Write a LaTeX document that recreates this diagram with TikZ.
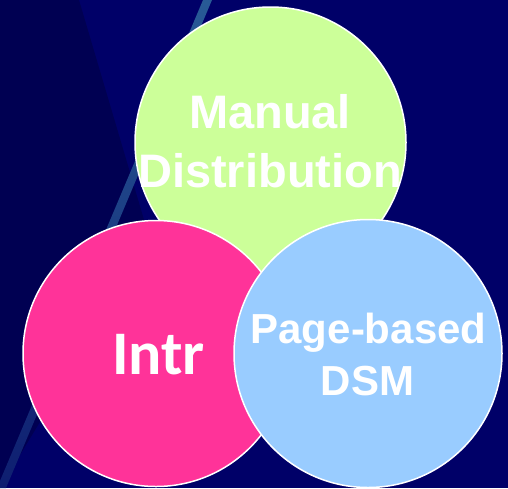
\documentclass[tikz,border=0pt]{standalone}
\usepackage{fontspec}
\newfontfamily\arialfont{Liberation Sans}
\newfontfamily\carlfont{Carlito}
\definecolor{navy}{RGB}{0,0,104}
\definecolor{darknavy}{RGB}{0,0,82}
\definecolor{streaktop}{RGB}{40,90,150}
\definecolor{streakbot}{RGB}{14,30,112}
\definecolor{cgreen}{RGB}{204,255,153}
\definecolor{cpink}{RGB}{255,51,153}
\definecolor{cblue}{RGB}{153,204,255}
\begin{document}
\begin{tikzpicture}[x=1pt,y=-1pt,
  bubble/.style={circle,draw=white,line width=1.5pt,inner sep=0pt},
  lbl/.style={text=white,anchor=base,inner sep=0pt,font=\arialfont\bfseries}]
\useasboundingbox (0,0) rectangle (508,488);
\fill[navy] (0,0) rectangle (508,488);
\fill[darknavy] (0,0) -- (79,0) -- (150,240) -- (0,488) -- cycle;
\shade[top color=streaktop,bottom color=streakbot] (203,0) -- (212,0) -- (6,488) -- (-3,488) -- cycle;
\node[bubble,fill=cgreen,minimum size=271pt] (g) at (270.5,142.5) {};
\node[bubble,fill=cpink,minimum size=266pt] (p) at (156,353.5) {};
\node[bubble,fill=cblue,minimum size=268pt] (b) at (368,353.5) {};
\node[lbl,font=\arialfont\bfseries\fontsize{47}{50}\selectfont] (t1) at (270,128) {Manual};
\node[lbl,font=\arialfont\bfseries\fontsize{47}{50}\selectfont] (t2) at (270,187) {Distribution};
\node[lbl,font=\carlfont\bfseries\fontsize{62}{64}\selectfont] (t3) at (158.5,374) {Intr};
\node[lbl,font=\arialfont\bfseries\fontsize{42}{44}\selectfont] (t4) at (368.5,343) {Page-based};
\node[lbl,font=\arialfont\bfseries\fontsize{42}{44}\selectfont] (t5) at (367.5,395) {DSM};
\end{tikzpicture}
\end{document}
